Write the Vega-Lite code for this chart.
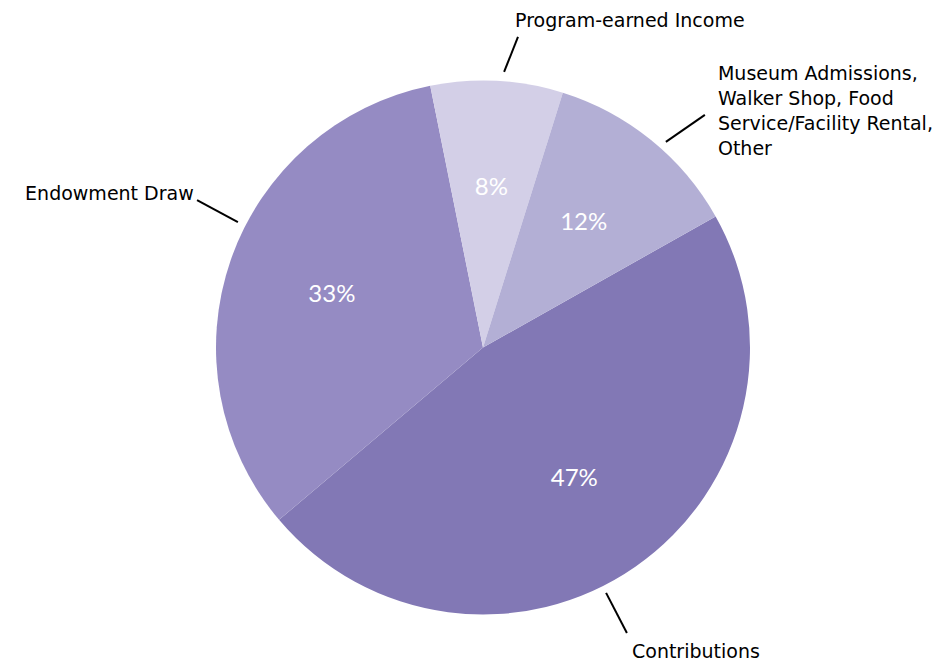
{
  "$schema": "https://vega.github.io/schema/vega-lite/v6.json",
  "width": 932,
  "height": 635,
  "autosize": {"type": "none"},
  "padding": {"left": 17, "top": 30, "right": 0, "bottom": 0},
  "background": "white",
  "config": {"view": {"stroke": null}},
  "datasets": {
    "shares": [
      {"source": "Contributions", "share": 0.47, "rank": 1},
      {"source": "Endowment Draw", "share": 0.33, "rank": 2},
      {"source": "Program-earned Income", "share": 0.08, "rank": 3},
      {"source": "Museum Admissions, Walker Shop, Food Service/Facility Rental, Other", "share": 0.12, "rank": 4}
    ],
    "leaders": [
      {"source": "Program-earned Income", "x": 0.131, "y": 1.163, "x2": 0.079, "y2": 1.032},
      {"source": "Museum Admissions, Walker Shop, Food Service/Facility Rental, Other", "x": 0.831, "y": 0.871, "x2": 0.685, "y2": 0.770},
      {"source": "Endowment Draw", "x": -1.071, "y": 0.552, "x2": -0.918, "y2": 0.470},
      {"source": "Contributions", "x": 0.461, "y": -0.919, "x2": 0.539, "y2": -1.069}
    ],
    "labels": [
      {"label": "Program-earned Income", "x": 0.120, "y": 1.2004},
      {"label": "Museum Admissions,\nWalker Shop, Food\nService/Facility Rental,\nOther", "x": 0.880, "y": 1.0019},
      {"label": "Endowment Draw", "x": -1.715, "y": 0.5524},
      {"label": "Contributions", "x": 0.558, "y": -1.163}
    ]
  },
  "layer": [
    {
      "data": {"name": "shares"},
      "mark": {"type": "arc", "outerRadius": 267},
      "encoding": {
        "theta": {"field": "share", "type": "quantitative", "stack": true, "scale": {"range": [1.0577, 7.3409]}},
        "order": {"field": "rank"},
        "color": {
          "field": "source",
          "type": "nominal",
          "legend": null,
          "scale": {
            "domain": ["Contributions", "Endowment Draw", "Program-earned Income", "Museum Admissions, Walker Shop, Food Service/Facility Rental, Other"],
            "range": ["#8278b5", "#958bc3", "#d3cfe7", "#b3afd5"]
          }
        }
      }
    },
    {
      "data": {"name": "shares"},
      "mark": {"type": "text", "radius": 160, "fontSize": 24, "color": "white", "font": "Lato", "align": "center", "baseline": "middle"},
      "encoding": {
        "theta": {"field": "share", "type": "quantitative", "stack": true},
        "order": {"field": "rank"},
        "text": {"field": "share", "type": "quantitative", "format": ".0%"}
      }
    },
    {
      "data": {"name": "leaders"},
      "mark": {"type": "rule", "color": "black", "strokeWidth": 2},
      "encoding": {
        "x": {"field": "x", "type": "quantitative", "axis": null, "scale": {"domain": [-1.74532, 1.74532], "zero": false, "nice": false}},
        "y": {"field": "y", "type": "quantitative", "axis": null, "scale": {"domain": [-1.18914, 1.18914], "zero": false, "nice": false}},
        "x2": {"field": "x2"},
        "y2": {"field": "y2"}
      }
    },
    {
      "data": {"name": "labels"},
      "mark": {"type": "text", "font": "DejaVu Sans", "fontSize": 19, "color": "black", "align": "left", "baseline": "alphabetic", "lineBreak": "\n", "lineHeight": 25},
      "encoding": {
        "x": {"field": "x", "type": "quantitative", "axis": null},
        "y": {"field": "y", "type": "quantitative", "axis": null},
        "text": {"field": "label", "type": "nominal"}
      }
    }
  ]
}
